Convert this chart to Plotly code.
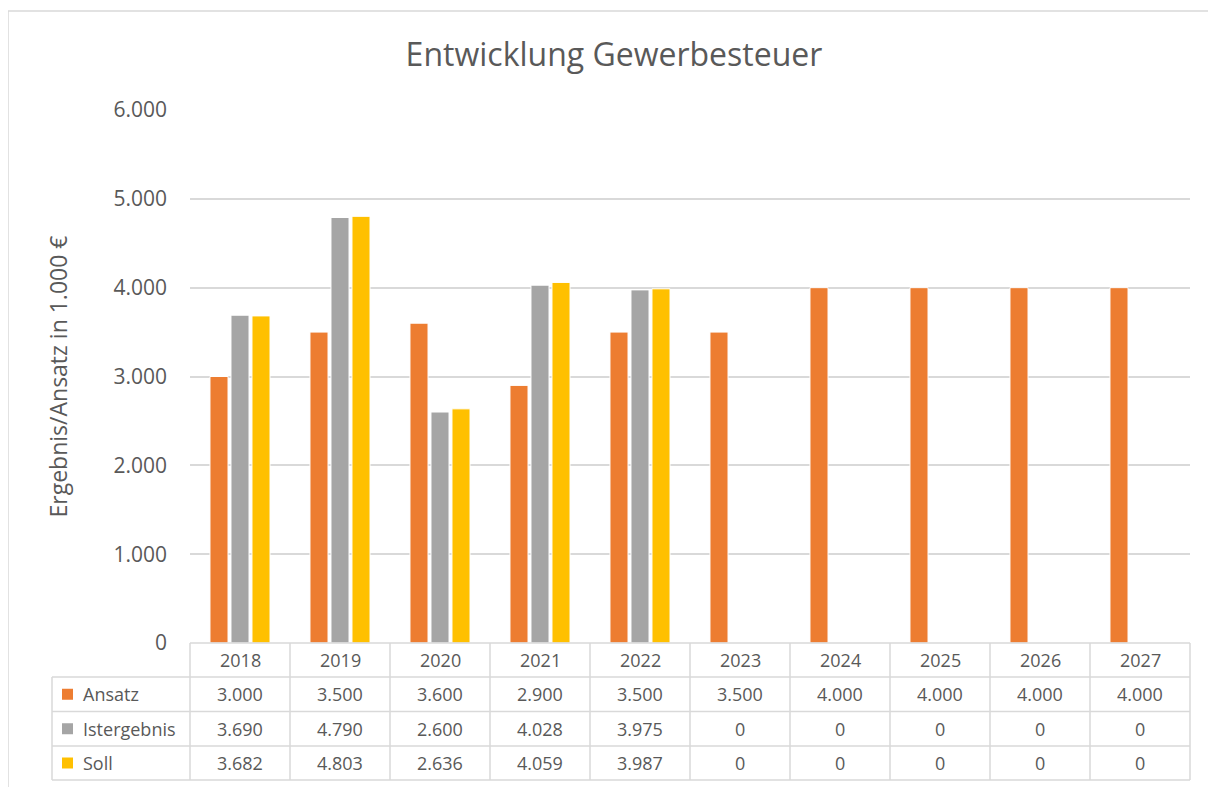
import plotly.graph_objects as go

years = ["2018", "2019", "2020", "2021", "2022", "2023", "2024", "2025", "2026", "2027"]
ansatz = [3000, 3500, 3600, 2900, 3500, 3500, 4000, 4000, 4000, 4000]
istergebnis = [3690, 4790, 2600, 4028, 3975, 0, 0, 0, 0, 0]
soll = [3682, 4803, 2636, 4059, 3987, 0, 0, 0, 0, 0]
series_names = ["Ansatz", "Istergebnis", "Soll"]
series_values = [ansatz, istergebnis, soll]
colors = ["#ED7D31", "#A5A5A5", "#FFC000"]

title = "Entwicklung Gewerbesteuer"
y_title = "Ergebnis/Ansatz in 1.000 €"

# page offset of the figure inside the browser (body margin)
OX, OY = 8, 8
W, H = 1216 - OX, 787 - OY
# layout boxes given in screen pixels
L, R, T, B = 190, 1190, 110, 643
TXT = "#595959"
GRID = "#D9D9D9"
FONT = "Open Sans"


def px(xs):
    return (xs - L) / (R - L)


def py(ys):
    return (B - ys) / (B - T)


def fmt(v):
    return f"{v:,}".replace(",", ".")


fig = go.Figure()
for name, vals, c in zip(series_names, series_values, colors):
    fig.add_trace(go.Bar(x=years, y=vals, name=name,
                         marker=dict(color=c, line=dict(color="white", width=1))))

shapes = []
annotations = []

# outer chart border (top and left edges visible)
bl = dict(color=GRID, width=1.5)
shapes.append(dict(type="line", xref="paper", yref="paper",
                   x0=px(8), x1=px(1230), y0=py(11), y1=py(11), line=bl))
shapes.append(dict(type="line", xref="paper", yref="paper",
                   x0=px(8), x1=px(8), y0=py(11), y1=py(800), line=bl))

# data table grid
rows_y = [643, 677, 711.5, 746, 780]
ncat = len(years)
col_x = [L + i * (R - L) / ncat for i in range(ncat + 1)]
lab_left = 52
gl = dict(color=GRID, width=1.5)
shapes.append(dict(type="line", xref="paper", yref="paper", x0=px(L), x1=px(R),
                   y0=py(rows_y[0]), y1=py(rows_y[0]), line=gl))
for yy in rows_y[1:]:
    shapes.append(dict(type="line", xref="paper", yref="paper", x0=px(lab_left), x1=px(R),
                       y0=py(yy), y1=py(yy), line=gl))
for xx in col_x:
    shapes.append(dict(type="line", xref="paper", yref="paper", x0=px(xx), x1=px(xx),
                       y0=py(rows_y[0]), y1=py(rows_y[-1]), line=gl))
shapes.append(dict(type="line", xref="paper", yref="paper", x0=px(lab_left), x1=px(lab_left),
                   y0=py(rows_y[1]), y1=py(rows_y[-1]), line=gl))

cell_font = dict(family=FONT, size=18, color=TXT)
# header row (years)
for i, yr in enumerate(years):
    annotations.append(dict(x=i, xref="x", y=py((rows_y[0] + rows_y[1]) / 2), yref="paper",
                            text=yr, showarrow=False, font=cell_font,
                            xanchor="center", yanchor="middle"))
# series rows
for r, (name, vals, c) in enumerate(zip(series_names, series_values, colors)):
    yc = (rows_y[r + 1] + rows_y[r + 2]) / 2
    shapes.append(dict(type="rect", xref="paper", yref="paper",
                       x0=px(62), x1=px(73), y0=py(yc - 5.5), y1=py(yc + 5.5),
                       fillcolor=c, line=dict(width=0)))
    annotations.append(dict(x=px(81), xref="paper", y=py(yc), yref="paper", text=name,
                            showarrow=False, font=cell_font, xanchor="left", yanchor="middle"))
    for i, v in enumerate(vals):
        annotations.append(dict(x=i, xref="x", y=py(yc), yref="paper", text=fmt(v),
                                showarrow=False, font=cell_font,
                                xanchor="center", yanchor="middle"))

fig.update_layout(
    width=W, height=H,
    margin=dict(l=L - OX, r=W - (R - OX), t=T - OY, b=H - (B - OY)),
    paper_bgcolor="white", plot_bgcolor="white",
    separators=",.",
    showlegend=False,
    barmode="group", bargap=0.37, bargroupgap=0.14,
    title=dict(text=title, x=(614 - OX) / W, xanchor="center", y=1 - (55 - OY) / H,
               yanchor="middle",
               font=dict(family=FONT, size=32, color=TXT)),
    xaxis=dict(type="category", range=[-0.5, ncat - 0.5], showticklabels=False,
               showgrid=False, zeroline=False, showline=False, fixedrange=True),
    yaxis=dict(range=[0, 6000], dtick=1000, tickformat=",d", showgrid=True,
               gridcolor=GRID, gridwidth=1.5, zeroline=False, showline=False,
               ticklabelstandoff=22,
               tickfont=dict(family=FONT, size=21, color=TXT),
               title=dict(text=y_title, standoff=39,
                          font=dict(family=FONT, size=23, color=TXT))),
    shapes=shapes,
    annotations=annotations,
)

fig.write_html("out.html")
